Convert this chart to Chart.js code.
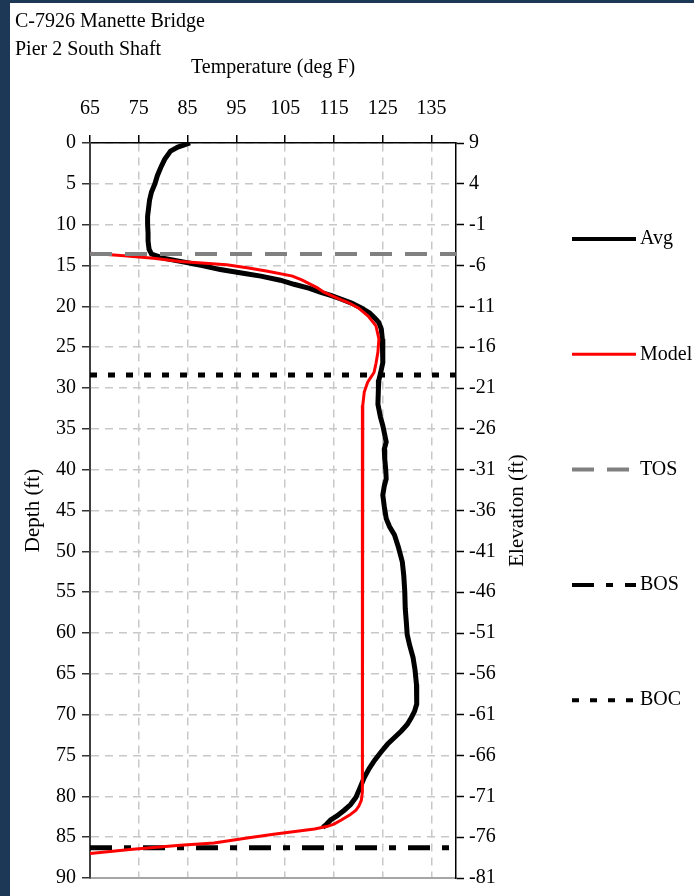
<!DOCTYPE html>
<html>
<head>
<meta charset="utf-8">
<title>Manette Bridge - Pier 2 South Shaft</title>
<script src="https://cdn.jsdelivr.net/npm/chart.js@4.4.0/dist/chart.umd.min.js"></script>
<style>
  html, body { margin: 0; padding: 0; }
  body { width: 694px; height: 896px; background: #1d3856; overflow: hidden; position: relative; }
  #panel { position: absolute; left: 10px; top: 3px; width: 684px; height: 893px; background: #fff; }
</style>
</head>
<body>
<div id="panel"><canvas id="profileChart"></canvas></div>
<script>
// Axis ticks
const tempTicks = [65, 75, 85, 95, 105, 115, 125, 135];
const depthTicks = [0, 5, 10, 15, 20, 25, 30, 35, 40, 45, 50, 55, 60, 65, 70, 75, 80, 85, 90];
const elevTicks = [9, 4, -1, -6, -11, -16, -21, -26, -31, -36, -41, -46, -51, -56, -61, -66, -71, -76, -81];
const tempMin = 65, tempMax = 140;

// Averaged measured profile (depth ft, temperature deg F)
const avgDepth = [0, 0.5, 1, 2, 3, 4, 5, 6, 7, 8, 9, 10, 11, 12, 13, 13.6, 14.1, 14.5, 15, 15.5,
  16, 16.3, 16.8, 17.3, 17.8, 18.3, 18.7, 19.1, 19.6, 20.2, 20.8, 21.4, 22, 22.8, 24, 25.2, 26.9,
  28, 29, 30.1, 32, 33.5, 34.6, 36.6, 37.5, 38.7, 40, 41.1, 42, 43.1, 44.5, 46, 47, 48, 49.5, 51.3,
  53, 54.9, 57, 58.5, 60.2, 61.5, 63, 64.5, 66.3, 67.5, 68.7, 69.6, 70.4, 71.2, 72, 72.8, 73.6,
  74.6, 75.6, 76.6, 77.7, 79, 80.1, 81, 81.7, 82.4, 82.9, 83.4, 83.8];
const avgTemp = [85.5, 83, 81.5, 80.3, 79.5, 78.8, 78.3, 77.6, 77.2, 77, 76.8, 76.8, 76.9, 76.9, 77.1, 77.6, 80, 83.5, 88, 91.7,
  97, 100, 104, 106.8, 110, 112.3, 114.5, 116.4, 118.6, 120.6, 122.3, 123.3, 124.2, 124.7, 124.9, 125, 125,
  124.6, 124.2, 124.1, 124, 124.5, 125, 125.7, 125.3, 125.4, 125.6, 125.7, 125.3, 125, 125.3, 125.7, 126.4, 127.4, 128.2, 129,
  129.3, 129.5, 129.6, 129.8, 130, 130.5, 131.2, 131.6, 131.9, 132, 131.9, 131.5, 130.8, 130, 128.8, 127.4, 126,
  124.6, 123.3, 122.2, 121.2, 120.3, 119.5, 118.4, 117.1, 115.6, 114.3, 113.5, 112.7];

// Model profile
const modelDepth = [13.5, 13.8, 14.1, 14.5, 14.9, 15.3, 15.7, 16.3, 16.8, 17.7, 18.3, 18.7, 19.2, 19.5,
  20.2, 21.2, 22.4, 24, 25.6, 27, 28.1, 29.3, 30.5, 32.1, 40, 50, 60, 70, 77.7, 79.5, 80.5, 81.2,
  81.7, 82.3, 82.9, 83.4, 83.7, 84, 84.3, 84.6, 85.1, 85.7, 86, 86.5, 87];
const modelTemp = [65, 72, 78, 83.5, 93, 97.5, 101.4, 106.5, 108.5, 111.5, 113, 114.5, 116.5, 117.8,
  120, 122, 123.6, 124.2, 124, 123.6, 123.2, 121.9, 121.2, 120.9, 120.8, 120.8, 120.8, 120.8, 120.9, 120.8, 120.6, 120.1,
  119.5, 118.2, 116.5, 115, 113.5, 111, 107, 103, 97.2, 90.4, 83.5, 73.2, 65];

// Reference depths: top of shaft, bottom of shaft, bottom of casing
const tosDepth = 13.6;
const bosDepth = 86.3;
const bocDepth = 28.4;

function toPoints(temps, depths) {
    return temps.map((t, i) => ({ x: t, y: depths[i] }));
}

function levelLine(depth) {
    return [{ x: tempMin, y: depth }, { x: tempMax, y: depth }];
}

const serif = "'Liberation Serif', 'Times New Roman', serif";
Chart.defaults.font.family = serif;
Chart.defaults.color = '#000';

// Legend stacked down the right side, one entry per dataset
const sideLegend = {
    id: 'sideLegend',
    afterDraw(chart) {
        const ctx = chart.ctx;
        const x0 = chart.chartArea.right + 116;
        chart.data.datasets.forEach((ds, i) => {
            const y = 236 + i * 115.3;
            ctx.save();
            ctx.strokeStyle = ds.borderColor;
            ctx.lineWidth = Math.min(ds.borderWidth, 4);
            ctx.setLineDash(ds.borderDash || []);
            ctx.beginPath();
            ctx.moveTo(x0, y);
            ctx.lineTo(x0 + 64, y);
            ctx.stroke();
            ctx.setLineDash([]);
            ctx.fillStyle = '#000';
            ctx.font = '20px ' + serif;
            ctx.textBaseline = 'middle';
            ctx.fillText(ds.label, x0 + 68, y);
            ctx.restore();
        });

        // right axis title, reading bottom to top
        const area = chart.chartArea;
        ctx.save();
        ctx.translate(area.right + 61, (area.top + area.bottom) / 2);
        ctx.rotate(-Math.PI / 2);
        ctx.font = '21px ' + serif;
        ctx.fillStyle = '#000';
        ctx.textAlign = 'center';
        ctx.textBaseline = 'middle';
        ctx.fillText('Elevation (ft)', 0, 0);
        ctx.restore();
    }
};

const gridGray = '#c8c8c8';

new Chart(document.getElementById('profileChart'), {
    type: 'scatter',
    data: {
        datasets: [
            { label: 'Avg', data: toPoints(avgTemp, avgDepth), showLine: true, borderColor: '#000000', borderWidth: 5, order: 1 },
            { label: 'Model', data: toPoints(modelTemp, modelDepth), showLine: true, borderColor: '#ff0000', borderWidth: 3, order: 0 },
            { label: 'TOS', data: levelLine(tosDepth), showLine: true, borderColor: '#808080', borderWidth: 4, borderDash: [22, 13], order: -1 },
            { label: 'BOS', data: levelLine(bosDepth), showLine: true, borderColor: '#000000', borderWidth: 5, borderDash: [22, 12, 7, 12], order: 2 },
            { label: 'BOC', data: levelLine(bocDepth), showLine: true, borderColor: '#000000', borderWidth: 5, borderDash: [7, 11], order: 2 }
        ]
    },
    options: {
        responsive: true,
        maintainAspectRatio: false,
        animation: false,
        elements: { point: { radius: 0 }, line: { tension: 0 } },
        layout: { padding: { left: 5, right: 158, top: 0, bottom: 0 } },
        plugins: {
            legend: { display: false },
            tooltip: { enabled: false },
            title: {
                display: true,
                text: ['C-7926 Manette Bridge', 'Pier 2 South Shaft'],
                align: 'start',
                color: '#000',
                font: { size: 20, weight: 'normal', lineHeight: 1.4 },
                padding: { top: 5, bottom: 0 }
            }
        },
        scales: {
            x: {
                type: 'linear',
                position: 'top',
                min: tempMin,
                max: tempMax,
                afterBuildTicks: s => { s.ticks = tempTicks.map(v => ({ value: v })); },
                afterFit: s => { s.height = 79; },
                title: { display: true, text: 'Temperature (deg F)', font: { size: 20, lineHeight: 1 }, padding: { top: -6, bottom: 0 } },
                ticks: { font: { size: 20 }, padding: 14, maxRotation: 0, autoSkip: false },
                grid: { color: gridGray, lineWidth: 1.5, tickColor: '#000', tickLength: 8, tickWidth: 1.5 },
                border: { color: '#000', width: 1.5, dash: [8, 6] }
            },
            x2: {
                type: 'linear',
                position: 'bottom',
                min: tempMin,
                max: tempMax,
                afterFit: s => { s.height = 16; },
                ticks: { display: false },
                grid: { display: false },
                border: { color: '#a6a6a6', width: 2 }
            },
            y: {
                type: 'linear',
                position: 'left',
                reverse: true,
                min: 0,
                max: 90,
                afterBuildTicks: s => { s.ticks = depthTicks.map(v => ({ value: v })); },
                afterFit: s => { s.width = 75; },
                title: { display: true, text: 'Depth (ft)', font: { size: 21, lineHeight: 1 }, padding: { top: 8, bottom: 0 } },
                ticks: { font: { size: 20 }, padding: 6 },
                grid: { color: gridGray, lineWidth: 1.5, tickColor: '#333', tickLength: 8, tickWidth: 1.5 },
                border: { color: '#404040', width: 2, dash: [8, 6] }
            },
            y2: {
                type: 'linear',
                position: 'right',
                min: -81,
                max: 9,
                afterBuildTicks: s => { s.ticks = elevTicks.map(v => ({ value: v })); },
                afterFit: s => { s.width = 80; },
                ticks: { font: { size: 20 }, padding: 5 },
                grid: { drawOnChartArea: false, tickColor: '#000', tickLength: 8, tickWidth: 1.5 },
                border: { color: '#000', width: 1.5 }
            }
        }
    },
    plugins: [sideLegend]
});
</script>
</body>
</html>
